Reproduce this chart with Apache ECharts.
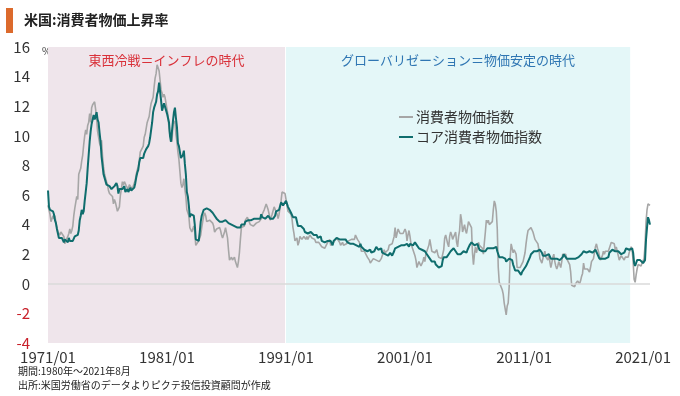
<!DOCTYPE html>
<html>
<head>
<meta charset="utf-8">
<title>米国:消費者物価上昇率</title>
<script src="https://cdn.jsdelivr.net/npm/echarts@6.0.0/dist/echarts.min.js"></script>
<style>
    html, body {margin: 0; padding: 0; background: #ffffff;}
    #main {width: 680px; height: 396px;}
</style>
</head>
<body>
<div id="main"></div>
<script>
// 月次データ 1971/01 - 2021/08 (前年同月比 %)
var aFirstYear = 1971;
var aLastYear = 2021;
var aLastMonth = 8;

var aTickLabels = ['1971/01', '1981/01', '1991/01', '2001/01', '2011/01', '2021/01'];
var aYTicks = [-4, -2, 0, 2, 4, 6, 8, 10, 12, 14, 16];

var aPeriods = [
    {name: '東西冷戦＝インフレの時代', from: '1971/01', to: '1990/12'},
    {name: 'グローバリゼーション＝物価安定の時代', from: '1991/01', to: '2019/12'}
];

// 消費者物価指数
var aCpi = [
    5.3, 5.0, 4.7, 4.2, 4.4, 4.6, 4.4, 4.6, 4.1, 3.8, 3.5, 3.4,
    3.3, 3.5, 3.5, 3.5, 3.2, 2.7, 2.9, 2.9, 3.2, 3.4, 3.7, 3.4,
    3.6, 3.9, 4.6, 5.1, 5.5, 5.9, 5.7, 7.4, 7.4, 7.8, 8.3, 8.7,
    9.4, 10.0, 10.4, 10.1, 10.7, 10.9, 11.5, 10.9, 11.9, 12.1, 12.2, 12.3,
    11.8, 11.2, 10.3, 10.2, 9.5, 9.3, 9.7, 8.6, 7.9, 7.4, 7.4, 6.9,
    6.7, 6.3, 6.1, 6.0, 6.2, 5.9, 5.4, 5.7, 5.5, 5.5, 4.9, 4.9,
    5.2, 6.0, 6.4, 6.9, 6.7, 6.9, 6.8, 6.6, 6.6, 6.4, 6.7, 6.7,
    6.8, 6.4, 6.6, 6.5, 7.0, 7.4, 7.7, 7.9, 8.3, 8.9, 8.9, 9.0,
    9.3, 9.9, 10.1, 10.5, 10.9, 10.9, 11.3, 11.8, 12.2, 12.1, 12.6, 13.3,
    13.9, 14.2, 14.8, 14.7, 14.4, 14.4, 13.1, 12.9, 12.6, 12.8, 12.6, 12.5,
    11.8, 11.4, 10.5, 10.0, 9.8, 9.6, 10.8, 10.8, 11.0, 10.1, 9.6, 8.9,
    8.4, 7.6, 6.8, 6.5, 6.7, 7.1, 6.4, 5.9, 5.0, 5.1, 4.6, 3.8,
    3.7, 3.5, 3.6, 3.9, 3.5, 2.6, 2.5, 2.6, 2.9, 2.9, 3.3, 3.8,
    4.2, 4.6, 4.8, 4.6, 4.2, 4.2, 4.2, 4.3, 4.3, 4.3, 4.1, 3.9,
    3.5, 3.5, 3.7, 3.7, 3.8, 3.8, 3.6, 3.3, 3.1, 3.2, 3.5, 3.8,
    3.9, 3.1, 2.3, 1.6, 1.5, 1.8, 1.6, 1.6, 1.8, 1.5, 1.3, 1.1,
    1.5, 2.1, 3.0, 3.8, 3.9, 3.7, 3.9, 4.3, 4.4, 4.5, 4.5, 4.4,
    4.0, 3.9, 3.9, 3.9, 3.9, 4.0, 4.1, 4.0, 4.2, 4.2, 4.2, 4.4,
    4.7, 4.8, 5.0, 5.1, 5.4, 5.2, 5.0, 4.7, 4.3, 4.5, 4.7, 4.6,
    5.2, 5.3, 5.2, 4.7, 4.4, 4.7, 4.8, 5.6, 6.2, 6.3, 6.3, 6.1,
    5.7, 5.3, 4.9, 4.9, 5.0, 4.7, 4.4, 3.8, 3.4, 2.9, 3.0, 3.1,
    2.6, 2.8, 3.2, 3.2, 3.0, 3.1, 3.2, 3.1, 3.0, 3.2, 3.0, 2.9,
    3.3, 3.2, 3.1, 3.2, 3.2, 3.0, 2.8, 2.8, 2.7, 2.8, 2.7, 2.7,
    2.5, 2.5, 2.5, 2.4, 2.3, 2.5, 2.8, 2.9, 3.0, 2.6, 2.7, 2.7,
    2.8, 2.9, 2.9, 3.1, 3.2, 3.0, 2.8, 2.6, 2.5, 2.8, 2.6, 2.5,
    2.7, 2.7, 2.8, 2.9, 2.9, 2.8, 3.0, 2.9, 3.0, 3.0, 3.3, 3.3,
    3.0, 3.0, 2.8, 2.5, 2.2, 2.3, 2.2, 2.2, 2.2, 2.1, 1.8, 1.7,
    1.6, 1.4, 1.4, 1.4, 1.7, 1.7, 1.7, 1.6, 1.5, 1.5, 1.5, 1.6,
    1.7, 1.6, 1.7, 2.3, 2.1, 2.0, 2.1, 2.3, 2.6, 2.6, 2.6, 2.7,
    2.7, 3.2, 3.8, 3.1, 3.2, 3.7, 3.7, 3.4, 3.5, 3.4, 3.4, 3.4,
    3.7, 3.5, 2.9, 3.3, 3.6, 3.2, 2.7, 2.7, 2.6, 2.1, 1.9, 1.6,
    1.1, 1.1, 1.5, 1.6, 1.2, 1.1, 1.5, 1.8, 1.5, 2.0, 2.2, 2.4,
    2.6, 3.0, 3.0, 2.2, 2.1, 2.1, 2.1, 2.2, 2.3, 2.0, 1.8, 1.9,
    1.9, 1.7, 1.7, 2.3, 3.1, 3.3, 3.0, 2.7, 2.5, 3.2, 3.5, 3.3,
    3.0, 3.0, 3.1, 3.5, 2.8, 2.5, 3.2, 3.6, 4.7, 4.3, 3.5, 3.4,
    4.0, 3.6, 3.4, 3.5, 4.2, 4.3, 4.1, 3.8, 2.1, 1.3, 2.0, 2.5,
    2.1, 2.4, 2.8, 2.6, 2.7, 2.7, 2.4, 2.0, 2.8, 3.5, 4.3, 4.1,
    4.3, 4.0, 4.0, 3.9, 4.2, 5.0, 5.6, 5.4, 4.9, 3.7, 1.1, 0.1,
    0.0, 0.2, -0.4, -0.7, -1.3, -1.4, -2.1, -1.5, -1.3, -0.2, 1.8, 2.7,
    2.6, 2.1, 2.3, 2.2, 2.0, 1.1, 1.2, 1.1, 1.1, 1.2, 1.1, 1.5,
    1.6, 2.1, 2.7, 3.2, 3.6, 3.6, 3.6, 3.8, 3.9, 3.5, 3.4, 3.0,
    2.9, 2.9, 2.7, 2.3, 1.7, 1.7, 1.4, 1.7, 2.0, 2.2, 1.8, 1.7,
    1.6, 2.0, 1.5, 1.1, 1.4, 1.8, 2.0, 1.5, 1.2, 1.0, 1.2, 1.5,
    1.6, 1.1, 1.5, 2.0, 2.1, 2.1, 2.0, 1.7, 1.7, 1.7, 1.3, 0.8,
    -0.1, 0.0, -0.1, -0.2, 0.0, 0.1, 0.2, 0.2, 0.0, 0.2, 0.5, 0.7,
    1.4, 1.0, 0.9, 1.1, 1.0, 1.0, 0.8, 1.1, 1.5, 1.6, 1.7, 2.1,
    2.5, 2.7, 2.4, 2.2, 1.9, 1.6, 1.7, 1.9, 2.2, 2.0, 2.2, 2.1,
    2.1, 2.2, 2.4, 2.5, 2.8, 2.9, 2.9, 2.7, 2.3, 2.5, 2.2, 1.9,
    1.6, 1.5, 1.9, 2.0, 1.8, 1.6, 1.8, 1.7, 1.7, 1.8, 2.1, 2.3,
    2.5, 2.3, 1.5, 0.3, 0.1, 0.6, 1.0, 1.3, 1.4, 1.2, 1.2, 1.4,
    1.4, 1.7, 2.6, 4.2, 5.0, 5.4, 5.4, 5.3
];

// コア消費者物価指数
var aCore = [
    6.3, 5.2, 5.0, 4.9, 5.0, 4.9, 4.7, 4.3, 4.1, 3.7, 3.4, 3.1,
    3.1, 3.0, 3.1, 3.0, 2.8, 3.0, 2.9, 3.0, 2.8, 3.1, 2.9, 3.0,
    3.0, 2.9, 3.0, 3.2, 3.1, 3.1, 3.3, 3.6, 4.3, 4.6, 5.0, 4.7,
    4.9, 5.6, 6.2, 6.8, 7.8, 8.7, 9.6, 10.3, 10.8, 11.1, 11.4, 11.1,
    11.3, 11.6, 11.1, 10.9, 10.2, 9.6, 8.6, 8.0, 7.4, 7.3, 7.3, 6.7,
    6.8, 6.7, 6.6, 6.5, 6.4, 6.3, 6.4, 6.6, 6.7, 6.8, 6.6, 6.1,
    6.4, 6.4, 6.4, 6.4, 6.5, 6.6, 6.2, 6.1, 6.4, 6.2, 6.3, 6.5,
    6.3, 6.2, 6.3, 6.5, 6.8, 7.2, 7.5, 7.7, 8.2, 8.5, 8.5, 8.5,
    8.5, 8.8, 8.9, 9.1, 9.2, 9.3, 9.5, 9.9, 10.4, 10.9, 11.6, 11.9,
    12.0, 12.3, 12.8, 13.0, 13.6, 13.6, 12.4, 11.7, 11.8, 12.2, 12.3, 12.2,
    11.5, 11.2, 10.9, 10.0, 9.6, 9.5, 11.0, 11.6, 11.9, 11.2, 10.6, 9.5,
    9.3, 9.3, 8.5, 8.5, 8.7, 9.0, 8.1, 7.4, 6.2, 5.9, 5.3, 4.5,
    4.7, 4.7, 4.8, 4.6, 4.0, 3.0, 2.9, 3.0, 2.9, 3.5, 4.2, 4.6,
    4.8, 5.0, 5.0, 5.1, 5.1, 5.1, 5.1, 5.0, 5.0, 4.9, 4.8, 4.7,
    4.6, 4.5, 4.4, 4.3, 4.4, 4.2, 4.3, 4.3, 4.2, 4.3, 4.3, 4.3,
    4.3, 4.2, 4.1, 4.0, 4.0, 4.0, 4.1, 4.0, 3.9, 3.9, 3.9, 3.8,
    3.8, 3.8, 3.8, 4.0, 4.1, 4.1, 4.0, 4.2, 4.3, 4.2, 4.3, 4.2,
    4.3, 4.3, 4.4, 4.3, 4.4, 4.5, 4.5, 4.4, 4.5, 4.4, 4.4, 4.7,
    4.5, 4.6, 4.6, 4.4, 4.5, 4.5, 4.6, 4.5, 4.4, 4.4, 4.5, 4.4,
    4.4, 4.6, 4.9, 4.9, 4.9, 5.0, 5.0, 5.5, 5.5, 5.3, 5.3, 5.2,
    5.6, 5.6, 5.2, 5.1, 5.1, 4.8, 4.7, 4.5, 4.5, 4.5, 4.5, 4.4,
    3.9, 3.8, 3.9, 3.9, 3.8, 3.8, 3.7, 3.5, 3.4, 3.5, 3.4, 3.3,
    3.5, 3.5, 3.5, 3.4, 3.3, 3.3, 3.3, 3.3, 3.1, 3.2, 3.1, 3.2,
    2.9, 2.8, 2.8, 2.8, 2.8, 2.9, 2.9, 2.9, 3.0, 2.9, 2.8, 2.6,
    2.9, 3.0, 3.0, 3.1, 3.1, 3.0, 3.0, 3.0, 2.9, 3.0, 3.0, 3.0,
    3.0, 2.9, 2.8, 2.7, 2.7, 2.7, 2.7, 2.6, 2.7, 2.6, 2.6, 2.6,
    2.5, 2.5, 2.5, 2.7, 2.5, 2.4, 2.4, 2.3, 2.2, 2.3, 2.2, 2.2,
    2.2, 2.3, 2.1, 2.1, 2.2, 2.2, 2.2, 2.5, 2.5, 2.3, 2.3, 2.4,
    2.4, 2.1, 2.1, 2.2, 2.0, 2.1, 2.1, 1.9, 2.0, 2.1, 2.1, 1.9,
    2.0, 2.2, 2.4, 2.3, 2.4, 2.5, 2.5, 2.6, 2.6, 2.5, 2.6, 2.6,
    2.6, 2.7, 2.7, 2.6, 2.5, 2.7, 2.7, 2.7, 2.6, 2.6, 2.8, 2.7,
    2.6, 2.6, 2.4, 2.5, 2.5, 2.3, 2.2, 2.4, 2.2, 2.2, 2.0, 1.9,
    1.9, 1.7, 1.7, 1.5, 1.6, 1.5, 1.5, 1.3, 1.2, 1.3, 1.1, 1.1,
    1.1, 1.2, 1.6, 1.8, 1.7, 1.9, 1.8, 1.7, 2.0, 2.0, 2.2, 2.2,
    2.3, 2.4, 2.3, 2.2, 2.2, 2.0, 2.1, 2.1, 2.0, 2.1, 2.1, 2.2,
    2.1, 2.1, 2.1, 2.3, 2.4, 2.6, 2.7, 2.8, 2.9, 2.7, 2.6, 2.6,
    2.7, 2.7, 2.5, 2.3, 2.2, 2.2, 2.2, 2.1, 2.1, 2.2, 2.3, 2.4,
    2.5, 2.3, 2.4, 2.3, 2.3, 2.4, 2.5, 2.5, 2.5, 2.2, 2.0, 1.8,
    1.7, 1.8, 1.8, 1.9, 1.8, 1.7, 1.5, 1.4, 1.5, 1.7, 1.7, 1.8,
    1.6, 1.3, 1.1, 0.9, 0.9, 0.9, 0.9, 0.9, 0.8, 0.6, 0.8, 0.8,
    1.0, 1.1, 1.2, 1.3, 1.5, 1.6, 1.8, 2.0, 2.0, 2.1, 2.2, 2.2,
    2.3, 2.2, 2.3, 2.3, 2.3, 2.2, 2.1, 1.9, 2.0, 2.0, 1.9, 1.9,
    1.9, 2.0, 1.9, 1.7, 1.7, 1.6, 1.7, 1.8, 1.7, 1.7, 1.7, 1.7,
    1.6, 1.6, 1.7, 1.8, 2.0, 1.9, 1.9, 1.7, 1.7, 1.8, 1.7, 1.6,
    1.6, 1.7, 1.8, 1.8, 1.7, 1.8, 1.8, 1.8, 1.9, 1.9, 2.0, 2.1,
    2.2, 2.3, 2.2, 2.1, 2.2, 2.2, 2.2, 2.3, 2.2, 2.1, 2.1, 2.2,
    2.3, 2.2, 2.0, 1.9, 1.7, 1.7, 1.7, 1.7, 1.7, 1.8, 1.7, 1.8,
    1.8, 1.8, 2.1, 2.1, 2.2, 2.3, 2.4, 2.2, 2.2, 2.1, 2.2, 2.2,
    2.2, 2.1, 2.0, 2.1, 2.0, 2.1, 2.2, 2.4, 2.4, 2.3, 2.3, 2.3,
    2.3, 2.4, 2.1, 1.4, 1.2, 1.2, 1.6, 1.7, 1.7, 1.6, 1.6, 1.6,
    1.4, 1.3, 1.6, 3.0, 3.8, 4.5, 4.3, 4.0
];

var sFont = '"Noto Sans CJK JP", "Noto Sans", sans-serif';

function GetCategories() {
    var aCategories = [];
    for (var iYear = aFirstYear; iYear <= aLastYear; iYear++) {
        for (var iMonth = 1; iMonth <= 12; iMonth++) {
            if (iYear == aLastYear && iMonth > aLastMonth) {
                break;
            }
            aCategories.push(iYear + '/' + (iMonth < 10 ? '0' + iMonth : iMonth));
        }
    }
    return aCategories;
}

function GetOption() {
    var aCategories = GetCategories();
    var aAreaColors = ['#efe5eb', '#e4f7f8'];
    var aLabelColors = ['#d9313a', '#2f76b3'];
    var aAreas = [];
    for (var i = 0; i < aPeriods.length; i++) {
        aAreas.push([
            {
                xAxis: aPeriods[i].from,
                itemStyle: {color: aAreaColors[i]},
                label: {
                    show: true,
                    position: 'insideTop',
                    distance: 7,
                    formatter: aPeriods[i].name,
                    color: aLabelColors[i],
                    fontSize: 13,
                    fontFamily: sFont
                }
            },
            {xAxis: aPeriods[i].to}
        ]);
    }

    var jOption = {
        animation: false,
        backgroundColor: '#ffffff',
        textStyle: {fontFamily: sFont},
        grid: {left: 48, right: 30, top: 47, bottom: 53},
        legend: {
            data: ['消費者物価指数', 'コア消費者物価指数'],
            orient: 'vertical',
            left: 399,
            top: 110,
            icon: 'rect',
            itemWidth: 14,
            itemHeight: 2,
            itemGap: 6,
            padding: 0,
            textStyle: {fontSize: 14, color: '#333333', fontFamily: sFont, padding: [0, 0, 0, -2]}
        },
        xAxis: {
            type: 'category',
            data: aCategories,
            boundaryGap: false,
            axisLine: {show: false},
            axisTick: {show: false},
            splitLine: {show: false},
            axisLabel: {
                interval: function (iIndex, sValue) {
                    return aTickLabels.indexOf(sValue) >= 0;
                },
                margin: 7,
                fontSize: 15,
                color: '#333333',
                fontFamily: sFont
            }
        },
        yAxis: {
            type: 'value',
            min: aYTicks[0],
            max: aYTicks[aYTicks.length - 1],
            interval: 2,
            axisLine: {show: false},
            axisTick: {show: false},
            splitLine: {show: false},
            axisLabel: {
                margin: 18,
                fontSize: 15,
                fontFamily: sFont,
                color: function (sValue) {
                    return parseFloat(sValue) < 0 ? '#c8202a' : '#333333';
                }
            }
        },
        series: [
            {
                name: 'background',
                type: 'line',
                data: [],
                z: 1,
                silent: true,
                markArea: {silent: true, data: aAreas},
                markLine: {
                    silent: true,
                    symbol: 'none',
                    label: {show: false},
                    lineStyle: {color: '#dadada', width: 1.5, type: 'solid'},
                    data: [{yAxis: 0}]
                }
            },
            {
                name: '消費者物価指数',
                type: 'line',
                data: aCpi,
                z: 3,
                showSymbol: false,
                symbol: 'none',
                lineStyle: {color: '#a6a6a6', width: 1.6},
                itemStyle: {color: '#a6a6a6'}
            },
            {
                name: 'コア消費者物価指数',
                type: 'line',
                data: aCore,
                z: 4,
                showSymbol: false,
                symbol: 'none',
                lineStyle: {color: '#0f6d6d', width: 2},
                itemStyle: {color: '#0f6d6d'}
            }
        ],
        graphic: [
            {type: 'rect', left: 6, top: 8, shape: {width: 7, height: 25}, style: {fill: '#dc6a2c'}},
            {type: 'text', left: 24, top: 13, style: {text: '米国:消費者物価上昇率', fill: '#222222', font: 'bold 14px ' + sFont}},
            {type: 'text', left: 42, top: 46, style: {text: '%', fill: '#333333', font: '10px ' + sFont}},
            {type: 'text', left: 18, top: 366, style: {text: '期間:1980年～2021年8月', fill: '#222222', font: '10px ' + sFont}},
            {type: 'text', left: 18, top: 380, style: {text: '出所:米国労働省のデータよりピクテ投信投資顧問が作成', fill: '#222222', font: '10px ' + sFont}}
        ]
    };
    return jOption;
}

function SetOption(jOption, sTagID) {
    var objectDom = document.getElementById(sTagID);
    var myChart = echarts.init(objectDom, null, {renderer: 'canvas'});
    myChart.setOption(jOption);
    return myChart;
}

SetOption(GetOption(), 'main');
</script>
</body>
</html>
